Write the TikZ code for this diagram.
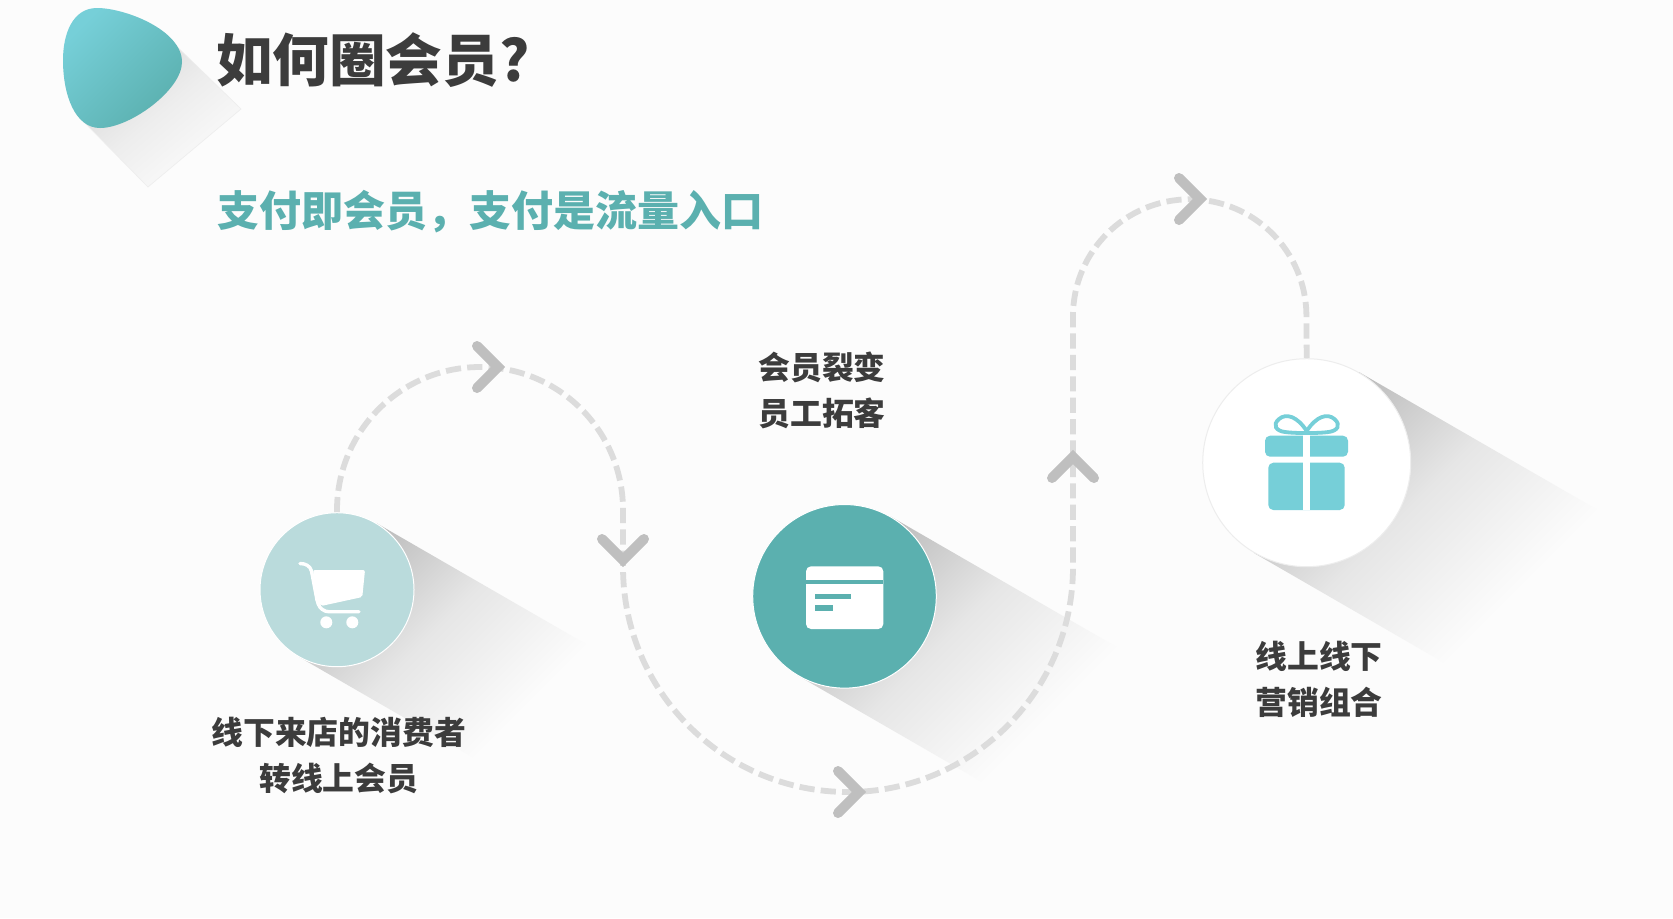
\documentclass[tikz,border=0pt]{standalone}
\usepackage{fontspec}
\usetikzlibrary{positioning,calc}
\newfontfamily\cjk{Noto Sans CJK SC}
\definecolor{bgcol}{HTML}{FCFCFC}
\definecolor{inkcol}{HTML}{3C3C3C}
\definecolor{tealcol}{HTML}{5BB0AF}
\definecolor{palecol}{HTML}{BADBDC}
\definecolor{aquacol}{HTML}{76CFD8}
\definecolor{dashcol}{HTML}{DCDCDC}
\definecolor{chevcol}{HTML}{BFBFBF}
\definecolor{shadowcol}{HTML}{B8B8B8}
\definecolor{shadowmid}{HTML}{E6E6E6}
\tikzset{
  disc/.style={circle,draw=white,line width=0.5pt,inner sep=0pt,fill=#1},
  caption/.style={align=center,text=inkcol,font=\cjk\bfseries\fontsize{15.9}{23}\selectfont},
  route/.style={draw=dashcol,line width=2.9pt,dash pattern=on 7.6pt off 3.1pt},
  chevron/.style={draw=chevcol,line width=5pt,line cap=round,line join=miter}
}
\newcommand{\longshadow}[3]{%
  \pgfmathsetmacro{\shlen}{3.4*#3}%
  \pgfmathsetmacro{\shhalf}{#3+0.6}%
  \pgfmathsetmacro{\shfade}{0.88*#3+149.5}%
  \pgfmathsetmacro{\shback}{-0.3*#3}%
  \pgfmathsetmacro{\shwide}{4*#3}%
  \begin{scope}
    \clip[shift={(#1,#2)},rotate=-30] (0,-\shhalf) rectangle (\shlen,\shhalf);
    \begin{scope}[transform canvas={shift={(#1,#2)},rotate=-45}]
      \shade[left color=shadowcol,right color=bgcol,middle color=shadowmid] (\shback,-\shwide) rectangle (\shfade,\shwide);
    \end{scope}
  \end{scope}}
\begin{document}
\begin{tikzpicture}[x=0.5pt,y=-0.5pt]
    \fill[bgcol] (0,0) rectangle (1673,918);
    \useasboundingbox (0,0) rectangle (1673,918);

    % leaf in the corner
    \shade[top color=white!84!black,bottom color=bgcol,middle color=white!93!black,shading angle=40,draw=white!93!black,line width=0.3pt]
      (163,33) -- (241,109) -- (148,187) -- (84,122) -- cycle;
    \shade[top color=aquacol,bottom color=tealcol,shading angle=45]
      (97,8) .. controls (125,8) and (182,30) .. (182,62)
      .. controls (182,90) and (130,128) .. (100,128)
      .. controls (75,128) and (63,95) .. (63,60)
      .. controls (63,35) and (72,8) .. (97,8) -- cycle;

    \node[anchor=west,text=inkcol,font=\cjk\bfseries\fontsize{28.3}{34}\selectfont] (title) at (209,60.5) {如何圈会员?};
    \node[anchor=west,text=tealcol,font=\cjk\bfseries\fontsize{21}{26}\selectfont] (subtitle) at (210.5,212) {支付即会员，支付是流量入口};

    % long shadows
    \longshadow{337.2}{589.7}{76.7}
    \longshadow{844.7}{596.3}{91.5}
    \longshadow{1306.7}{462.7}{104}

    \node[disc=palecol,minimum size=77pt] (cart) at (337,589.7) {};
    \node[disc=tealcol,minimum size=91.8pt] (card) at (844.5,596.3) {};
    \node[disc=white,draw=white!93!black,minimum size=104pt] (gift) at (1306.7,462.7) {};

    % the dashed route
    \draw[route] (cart.north) -- (337,510) arc[start angle=180,end angle=360,radius=143]
      -- (623,567) arc[start angle=180,end angle=0,radius=225]
      -- (1073,316) arc[start angle=180,end angle=360,radius=116.7]
      -- (gift.north);

    \draw[chevron] (477,346) -- (498,367) -- (477,388);
    \draw[chevron] (602,539) -- (623,560) -- (644,539);
    \draw[chevron] (838,771) -- (859,792) -- (838,813);
    \draw[chevron] (1052,478) -- (1073,457) -- (1094,478);
    \draw[chevron] (1179,178) -- (1200,199) -- (1179,220);

    % cart icon
    \fill[white,rounded corners=1pt] (313,570) -- (365,570) -- (362.3,597) -- (321,606) -- (317,600) -- cycle;
    \draw[white,line width=1.7pt,line cap=round,rounded corners=4pt] (317,600) -- (320.7,611.7) -- (359,611.7);
    \draw[white,line width=1.7pt,line cap=round] (300,563.5) .. controls (306,563.5) and (310,566) .. (311.5,571) -- (317,600);
    \fill[white] (326.3,622.3) circle[radius=6];
    \fill[white] (352.3,622.3) circle[radius=6];

    % card icon
    \fill[white,rounded corners=2.5pt] (806,566.3) rectangle (883.3,629);
    \fill[tealcol] (806,580) rectangle (883.3,583.7);
    \fill[tealcol] (815,593.7) rectangle (851,599.3);
    \fill[tealcol] (815,605) rectangle (833,611);

    % gift icon
    \fill[aquacol,rounded corners=2.5pt] (1265,435.7) rectangle (1348,456.7);
    \fill[aquacol,rounded corners=2.5pt] (1268.3,462.7) rectangle (1344.7,510);
    \fill[white] (1303.3,434) rectangle (1310,510);
    \draw[aquacol,line width=1.9pt]
      (1306.7,431) .. controls (1297,416) and (1286,413) .. (1279,419)
      .. controls (1272,425) and (1276,431) .. (1285,432)
      .. controls (1293,433) and (1300,433) .. (1306.7,433)
      .. controls (1313.4,433) and (1320.4,433) .. (1328.4,432)
      .. controls (1337.4,431) and (1341.4,425) .. (1334.4,419)
      .. controls (1327.4,413) and (1316.4,416) .. (1306.7,431);

    \node[caption] (cartlabel) at (338.7,756) {线下来店的消费者\\转线上会员};
    \node[caption] (cardlabel) at (822,390) {会员裂变\\员工拓客};
    \node[caption] (giftlabel) at (1319,679) {线上线下\\营销组合};
\end{tikzpicture}
\end{document}
